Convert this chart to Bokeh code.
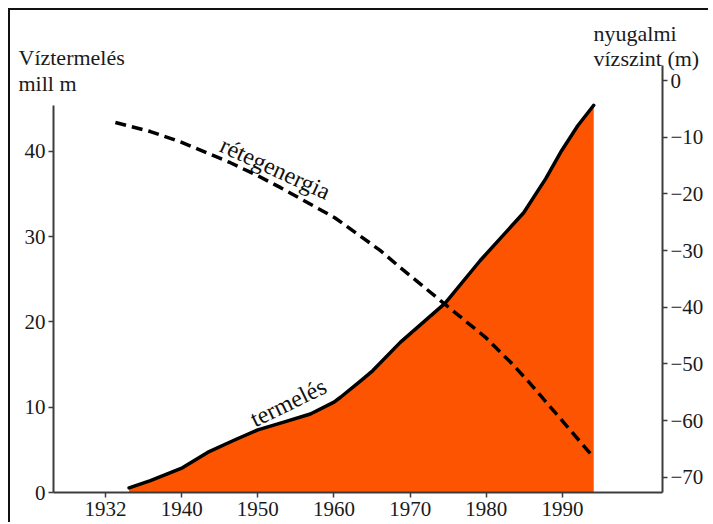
from bokeh.plotting import figure
from bokeh.models import Range1d, LinearAxis, FixedTicker, Label
from bokeh.embed import file_html
from bokeh.resources import INLINE
import math

# ---- data ----
prod_years = [1933.1, 1935.9, 1940.1, 1943.4, 1946.8, 1950.0, 1953.4, 1956.9, 1960.0,
              1960.9, 1963.5, 1965.1, 1968.7, 1974.6, 1979.2, 1984.9, 1987.8,
              1989.9, 1992.0, 1994.1]
prod_values = [0.55, 1.4, 2.9, 4.7, 6.1, 7.35, 8.25, 9.2, 10.6,
               11.2, 13.1, 14.3, 17.6, 22.2, 27.2, 32.8, 36.8,
               40.1, 43.0, 45.4]

lvl_years = [1931.3, 1935.9, 1940.0, 1946.4, 1950.0, 1953.0, 1960.1, 1966.1,
             1968.7, 1974.6, 1979.9, 1983.2, 1985.4, 1989.7, 1994.1]
lvl_values = [-7.4, -9.0, -10.9, -14.5, -16.8, -18.9, -24.2, -30.0,
              -33.0, -39.5, -45.3, -49.7, -52.9, -59.6, -66.5]

x_ticks = [1930, 1940, 1950, 1960, 1970, 1980, 1990]
x_tick_labels = {1930: "1932"}
left_ticks = [0, 10, 20, 30, 40]
right_ticks = [0, -10, -20, -30, -40, -50, -60, -70]

left_title = ["Víztermelés", "mill m"]
right_title = ["nyugalmi", "vízszint (m)"]
prod_name = "termelés"
lvl_name = "rétegenergia"

FONT = "Liberation Serif"
AX = "#3c3c3c"
ORANGE = "#FC5400"

X0, X1 = 1917.53, 2009.43
LEFT_AX_X, RIGHT_AX_X = 1923.17, 2003.13

p = figure(width=700, height=514, output_backend="svg", toolbar_location=None,
           x_range=Range1d(X0, X1), y_range=Range1d(-3.75, 56.51),
           x_axis_type=None, y_axis_type=None,
           min_border=0, min_border_left=0, min_border_right=0,
           min_border_top=0, min_border_bottom=0)
p.styles = {"margin-left": "8px", "margin-top": "8px",
            "border-left": "2px solid #111111", "border-top": "2px solid #111111"}
p.outline_line_color = None
p.xgrid.visible = False
p.ygrid.visible = False
p.background_fill_color = "white"
p.border_fill_color = "white"
p.extra_y_ranges = {"lvl": Range1d(-78.31, 12.35)}


def style_axis(ax):
    ax.axis_line_color = AX
    ax.axis_line_width = 2
    ax.major_tick_line_color = AX
    ax.major_tick_line_width = 1.5
    ax.major_tick_in = 0
    ax.major_tick_out = 5
    ax.minor_tick_line_color = None
    ax.major_label_text_font = FONT
    ax.major_label_text_font_size = "21px"
    ax.major_label_text_color = "#1a1a1a"


xa = LinearAxis(ticker=FixedTicker(ticks=x_ticks), major_label_overrides=x_tick_labels,
                fixed_location=0, bounds=(LEFT_AX_X, RIGHT_AX_X))
style_axis(xa)
xa.major_label_standoff = 4
p.add_layout(xa, "below")

ya = LinearAxis(ticker=FixedTicker(ticks=left_ticks), bounds=(0, 45.4),
                fixed_location=LEFT_AX_X)
style_axis(ya)
ya.major_label_standoff = 3
p.add_layout(ya, "left")

ra = LinearAxis(y_range_name="lvl", ticker=FixedTicker(ticks=right_ticks),
                bounds=(-72.66, 2.6), fixed_location=RIGHT_AX_X)
style_axis(ra)
ra.major_label_standoff = 3
ra.major_label_text_baseline = "top"
p.add_layout(ra, "right")

# production area + line
p.varea(x=prod_years, y1=[0] * len(prod_years), y2=prod_values, fill_color=ORANGE)
p.line(prod_years, prod_values, line_color="black", line_width=3.5,
       line_join="round", line_cap="round")

# reservoir energy (static level) dashed line
p.line(lvl_years, lvl_values, y_range_name="lvl", line_color="black", line_width=3.5,
       line_dash="11 6", line_join="round")

# in-chart labels
p.add_layout(Label(x=1952.3, y=38.0, text=lvl_name, angle=-24.6 * math.pi / 180,
                   text_align="center", text_baseline="middle", text_font=FONT,
                   text_font_size="24px", text_color="#111111"))
p.add_layout(Label(x=1954.0, y=10.55, text=prod_name, angle=26 * math.pi / 180,
                   text_align="center", text_baseline="middle", text_font=FONT,
                   text_font_size="24px", text_color="#111111"))

# axis titles
for txt, yy in zip(left_title, [51.0, 47.95]):
    p.add_layout(Label(x=1918.58, y=yy, text=txt, text_align="left",
                       text_baseline="alphabetic", text_font=FONT,
                       text_font_size="22px", text_color="#1a1a1a"))
for txt, yy in zip(right_title, [53.8, 50.9]):
    p.add_layout(Label(x=1994.07, y=yy, text=txt, text_align="left",
                       text_baseline="alphabetic", text_font=FONT,
                       text_font_size="22px", text_color="#1a1a1a"))

open("out.html", "w").write(file_html(p, INLINE))
